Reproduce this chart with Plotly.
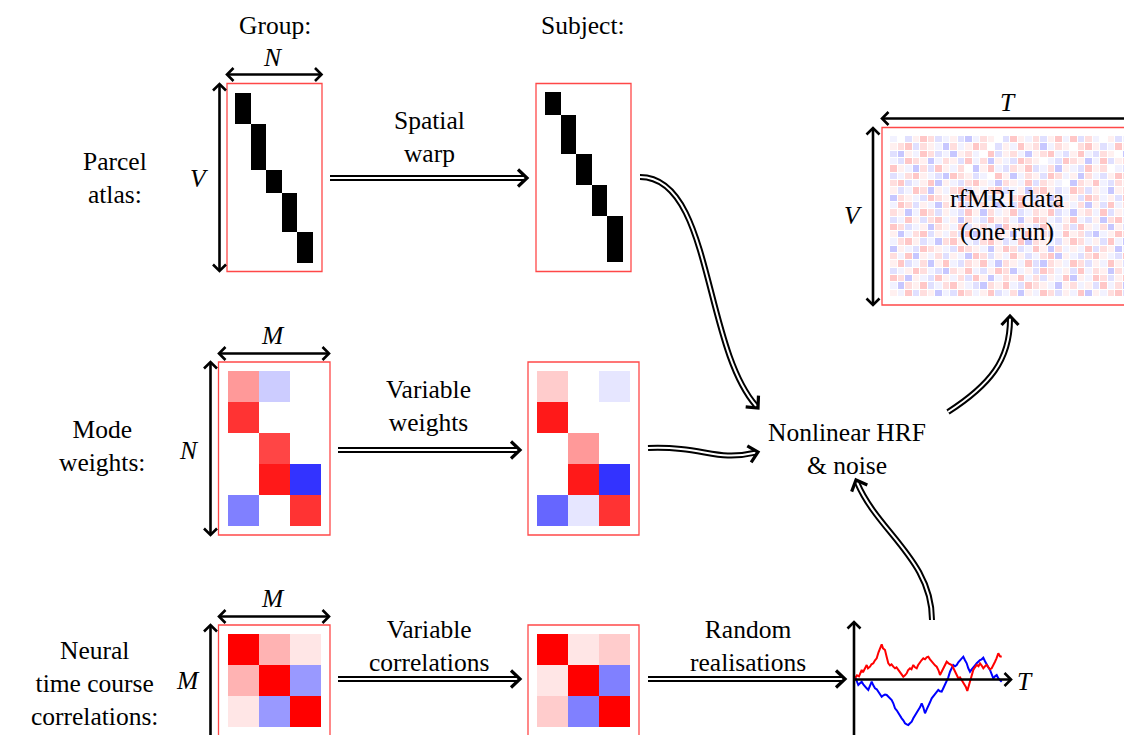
import math
import plotly.graph_objects as go

# ---------------- data ----------------
group_parcel_sizes = [4, 6, 3, 5, 4]      # rows (voxels) per parcel, group atlas
subject_parcel_sizes = [3, 5, 4, 4, 6]    # rows per parcel, subject atlas

group_weights = [[0.40, -0.20, 0.00],
                 [0.80, 0.00, 0.00],
                 [0.00, 0.73, 0.00],
                 [0.00, 0.90, -0.80],
                 [-0.50, 0.00, 0.80]]
subject_weights = [[0.20, 0.00, -0.10],
                   [0.90, 0.00, 0.00],
                   [0.00, 0.40, 0.00],
                   [0.00, 0.90, -0.80],
                   [-0.60, -0.10, 0.80]]
group_corr = [[1.0, 0.3, 0.1],
              [0.3, 1.0, -0.4],
              [0.1, -0.4, 1.0]]
subject_corr = [[1.0, 0.1, 0.2],
                [0.1, 1.0, -0.5],
                [0.2, -0.5, 1.0]]

rfmri_levels = {'B': -0.22, 'b': -0.12, 'c': -0.05, '.': 0.0,
                'p': 0.06, 'r': 0.13, 'R': 0.22}
rfmri_rows = [
    "c.bpRrbcpbBcrp.bRpcrbpRcRbrc.pbc",
    "prRbrpcBrcpRr.bpcRprBcrp.rRpbcRp",
    "bBpcRrbcBprc.RbprcBprRcbpRcbrp.B",
    "cbRrpBcrpbRcrBpcbRrp.cbRrpBcRbpr",
    "RpcBrbRpcr.BpRcbrpRbcrBpcbRpr.cb",
    "bcrRpcbBRrpbc.RpBcrpbRrcpBrcbpRr",
    "rRbcpRBpcbrRpcBrpcRbrpc.BrpRcbrp",
    "pbcRrBpcrRbpcrRbcpBrRpbcRrbpcBpr",
    "BrpcbRrpcBRrpbcprRcbpBrcpbRrcpbR",
    "cRrbpcBrpRbcrpBcbRprcbRpcrBpbRcr",
    "rpBcRrbpcbRpBrcpRbcrpRbcBprcRbpc",
    "bcRpbrRcpBrcbRprcBpRrcbpRcbpBrRc",
    "RrbcpBrpcRbprcBRprcbRpcrbRpcrBpb",
    "pBcrRbpcrbRBpcrpBcRprbcRprbBcpRr",
    "crRpbcBrRpcbrRpbcRBrpcbpRrcpbRcB",
    "BpcbRrpcbRrpcBpRrbcRpBrcpcRbrpBc",
    "rcRBpcrbpcBRrbpcRpbcrRBpcbrRpcbR",
    "pRbcrBpRcbrpRcBrpcRbBrpcRrbpcRpb",
    "bcpRrcbBrpRcbpRrBcpbRrcpbRcrpBrc",
    "RrBpcbRpcrbRpBcrpRcrbpcRBpcRrbpR",
    "cBrpRbcrRpcbBrpRcbRrpcBprcpbRcrB",
    "pcRbrpBcbRrcpRbcrBpcRrbpcRBpcrRb",
]

ts_red_t = [1, 3, 5, 7.7, 9, 11, 12.7, 14, 16, 17.5, 19.3, 21, 22.7, 24.5, 26, 27.7, 29, 31,
            32.5, 34.3, 36, 37.5, 39.3, 41, 42.5, 44.3, 46, 47.5, 49.3, 51, 52.7, 54, 56, 57.5,
            59.3, 61, 62.7, 64, 66, 67.5, 69.3, 71, 72.7, 74.3, 76, 77.7, 79.5, 81, 82.7, 84.5,
            86, 87.5, 89.3, 91, 92.7, 94.5, 96, 97.7, 99, 101, 102.5, 104.3, 106, 107.7, 109,
            111, 112, 113.3, 114.5, 116, 117.5, 119.3, 121, 122.7, 124.5, 126, 127.5, 129.3,
            131, 132.7, 134.5, 136, 137.7, 139.5, 141, 142.5, 144.3, 146, 147.7]
ts_red_v = [1, 4, 3, 9.3, 7, 12, 14.3, 11, 12.6, 15, 16, 19, 21, 27, 30, 35, 31, 29.3,
            23, 16, 14, 15, 12.6, 11, 12, 9.3, 7, 5, 2.6, 4, 6, 9, 11, 10,
            14.3, 12, 11, 14, 17.6, 19, 21, 20, 22, 22.6, 20, 17.6, 16, 14, 12.6, 9,
            4.3, 7, 11, 14, 17.6, 16, 15, 14.3, 12, 7.6, 4, 1, 2, -0.7, -3,
            -5.7, -8, -11.7, -7, -0.7, 4, 9.3, 12, 14.3, 13, 16, 14, 11,
            13, 14.3, 12, 10, 11, 14, 17.6, 21, 26, 23, 22.6]
ts_blue_t = [1, 2.5, 4.3, 6, 7.7, 9.3, 11, 12.7, 14.3, 16, 17.7, 19.3, 21, 22.7, 24.3, 26, 27.7,
             29.5, 31, 32.7, 34.3, 36, 37.7, 39.3, 41, 42.7, 44.3, 46, 47.7, 49.3, 51, 52.7,
             54.3, 56, 57.7, 59.3, 61, 62.7, 64.3, 66, 67.7, 69.3, 71, 72.7, 74.3, 76, 77.7,
             79.3, 81, 82.7, 84.3, 86, 87.7, 89.3, 91, 92.7, 94.3, 96, 97.7, 99.3, 101, 102.7,
             104.3, 106, 107.7, 109.3, 111, 112.7, 114.3, 116, 117.7, 119.3, 121, 122.7, 124.3,
             126, 127.7, 129.3, 131, 132.7, 134.3, 136, 137.7, 139.3, 141, 142.7, 144.3, 146, 147.7]
ts_blue_v = [2.6, -1, -5.7, -4, -2.4, -5, -7.4, -9, -10.7, -6, -2.4, -6, -9, -10, -12.4, -14, -17.4,
             -16, -15.2, -15.7, -17, -19, -20.7, -24, -29, -31, -34, -37.4, -39, -41, -44, -45,
             -45.7, -44, -42.4, -39, -35.7, -33, -30.7, -28, -24, -28, -34, -30, -25.7, -23, -19,
             -17, -15.7, -13, -10.7, -12, -12.4, -9, -5, -2.4, 2, 7.6, 11, 14.3, 13, 14.3,
             17, 19.3, 21, 22.6, 19, 16, 11, 7.6, 10, 12.6, 14, 16, 18,
             19.3, 20, 21.6, 18, 14.3, 12, 9.3, 5, 1, 3, 4.3, 1, -1, -2.4]

# ---------------- layout helpers ----------------
W, H = 1132, 735          # browser window
OFF = 8                   # page body margin in the browser
FW, FH = W - OFF, H - OFF # figure size
FONT = "Liberation Serif"
BWR = [[0, "rgb(0,0,255)"], [0.5, "rgb(255,255,255)"], [1, "rgb(255,0,0)"]]
BOX = "rgba(255,40,40,0.85)"

fig = go.Figure()
shapes = []
annotations = []
layout_axes = {}
n_ax = [1]


def new_axes(x0, x1, y0, y1, xr, yr):
    n_ax[0] += 1
    n = n_ax[0]
    layout_axes[f"xaxis{n}"] = dict(domain=[(x0 - OFF) / FW, (x1 - OFF) / FW], range=xr,
                                    anchor=f"y{n}", visible=False, fixedrange=True)
    layout_axes[f"yaxis{n}"] = dict(domain=[1 - (y1 - OFF) / FH, 1 - (y0 - OFF) / FH],
                                    range=yr, anchor=f"x{n}", visible=False, fixedrange=True)
    return f"x{n}", f"y{n}"


def heat(z, x0, x1, y0, y1, colorscale, zmin, zmax, gap=0):
    rows, cols = len(z), len(z[0])
    xa, ya = new_axes(x0, x1, y0, y1, [-0.5, cols - 0.5], [rows - 0.5, -0.5])
    fig.add_trace(go.Heatmap(z=z, xaxis=xa, yaxis=ya, colorscale=colorscale, zmin=zmin,
                             zmax=zmax, showscale=False, xgap=gap, ygap=gap, hoverinfo="skip"))


def box(x0, y0, x1, y1):
    shapes.append(dict(type="rect", xref="x", yref="y", x0=x0, y0=y0, x1=x1, y1=y1,
                       line=dict(color=BOX, width=1.3), layer="above"))


def chevron(tx, ty, dx, dy, L, hw, width):
    n = math.hypot(dx, dy)
    ux, uy = dx / n, dy / n
    px, py = -uy, ux
    bx, by = tx - ux * L, ty - uy * L
    shapes.append(dict(type="path", xref="x", yref="y",
                       path=f"M{bx + px * hw:.2f},{by + py * hw:.2f} L{tx:.2f},{ty:.2f} "
                            f"L{bx - px * hw:.2f},{by - py * hw:.2f}",
                       line=dict(color="black", width=width)))


def dim_arrow(x0, y0, x1, y1):
    shapes.append(dict(type="line", xref="x", yref="y", x0=x0, y0=y0, x1=x1, y1=y1,
                       line=dict(color="black", width=2.6)))
    chevron(x1, y1, x1 - x0, y1 - y0, 6.5, 6.5, 2.6)
    chevron(x0, y0, x0 - x1, y0 - y1, 6.5, 6.5, 2.6)


def single_arrow(x0, y0, x1, y1):
    shapes.append(dict(type="line", xref="x", yref="y", x0=x0, y0=y0, x1=x1, y1=y1,
                       line=dict(color="black", width=2.6)))
    chevron(x1, y1, x1 - x0, y1 - y0, 6.5, 6.5, 2.6)


def double_arrow(start, c1, c2, tip):
    dx, dy = tip[0] - c2[0], tip[1] - c2[1]
    n = math.hypot(dx, dy)
    ex, ey = tip[0] - 3 * dx / n, tip[1] - 3 * dy / n
    p = (f"M{start[0]},{start[1]} C{c1[0]},{c1[1]} {c2[0]},{c2[1]} {ex:.2f},{ey:.2f}")
    shapes.append(dict(type="path", xref="x", yref="y", path=p,
                       line=dict(color="black", width=6)))
    shapes.append(dict(type="path", xref="x", yref="y", path=p,
                       line=dict(color="white", width=2)))
    chevron(tip[0], tip[1], dx, dy, 9, 8.5, 3.2)


def straight_double(x0, x1, y):
    double_arrow((x0, y), ((2 * x0 + x1) / 3, y), ((x0 + 2 * x1) / 3, y), (x1, y))


def text(x, y, s, size=25.5, xanchor="center"):
    annotations.append(dict(x=x, y=y, xref="x", yref="y", text=s, showarrow=False,
                            xanchor=xanchor, yanchor="middle", align="center",
                            font=dict(family=FONT, size=size, color="black")))


# ---------------- atlases ----------------
def atlas_matrix(sizes):
    m = []
    for k, s in enumerate(sizes):
        for _ in range(s):
            m.append([1 if j == k else 0 for j in range(len(sizes))])
    return m


BW = [[0, "white"], [1, "black"]]
heat(atlas_matrix(group_parcel_sizes), 235, 313, 93, 263, BW, 0, 1)
box(227, 83.5, 322, 271.5)
heat(atlas_matrix(subject_parcel_sizes), 545, 623, 92, 262, BW, 0, 1)
box(536, 83.5, 631, 271.5)

# ---------------- mode weights ----------------
heat(group_weights, 228, 321, 371, 526, BWR, -1, 1)
box(218.5, 362, 330, 535)
heat(subject_weights, 537, 630, 371, 526, BWR, -1, 1)
box(528, 362, 639, 535)

# ---------------- correlations ----------------
heat(group_corr, 228, 321, 634, 727, BWR, -1, 1)
box(218.5, 625, 330, 736)
heat(subject_corr, 537, 630, 634, 727, BWR, -1, 1)
box(528, 625, 639, 736)

# ---------------- rfMRI data ----------------
rfmri = [[rfmri_levels[c] for c in row] for row in rfmri_rows]
heat(rfmri, 890, 1130, 136, 297, BWR, -1, 1, gap=1)
box(882, 127.5, 1140, 305)

# ---------------- time courses ----------------
xa, ya = new_axes(854, 1011, 623, 735, [0, 157], [-55.7, 56.3])
fig.add_trace(go.Scatter(x=ts_blue_t, y=ts_blue_v, xaxis=xa, yaxis=ya, mode="lines",
                         line=dict(color="rgb(0,0,255)", width=2), hoverinfo="skip"))
fig.add_trace(go.Scatter(x=ts_red_t, y=ts_red_v, xaxis=xa, yaxis=ya, mode="lines",
                         line=dict(color="rgb(255,0,0)", width=2), hoverinfo="skip"))
shapes.append(dict(type="line", xref="x", yref="y", x0=854, y0=740, x1=854, y1=622,
                   line=dict(color="black", width=2.6)))
chevron(854, 622, 0, -1, 6.5, 6.5, 2.6)
single_arrow(854, 679.5, 1011, 679.5)

# ---------------- dimension arrows ----------------
dim_arrow(227, 74.5, 321.5, 74.5)
dim_arrow(219.5, 84, 219.5, 271)
dim_arrow(882, 118.5, 1136, 118.5)
dim_arrow(873, 128, 873, 305)
dim_arrow(219, 353.5, 329, 353.5)
dim_arrow(210.5, 362, 210.5, 535)
dim_arrow(219, 616.5, 329, 616.5)
dim_arrow(210.5, 625, 210.5, 745)

# ---------------- process arrows ----------------
straight_double(330, 527, 178)
straight_double(338, 520, 450)
straight_double(338, 520, 679)
straight_double(648, 845, 679)
double_arrow((640, 177), (712, 177), (703, 345), (758, 408))
double_arrow((648, 448), (705, 446), (715, 462), (758, 452))
double_arrow((948, 412), (990, 385), (1010, 360), (1010, 316))
double_arrow((932, 620), (932, 560), (878, 532), (856, 480))

# ---------------- texts ----------------
text(275, 25, "Group:")
text(583, 25, "Subject:")
text(273, 57, "<i>N</i>")
text(199, 178, "<i>V</i>")
text(115, 178, "Parcel<br>atlas:")
text(429, 137, "Spatial<br>warp")
text(1008, 102, "<i>T</i>")
text(853, 215, "<i>V</i>")
text(1007, 215, "rfMRI data<br>(one run)")
text(273, 335, "<i>M</i>")
text(189, 450, "<i>N</i>")
text(102, 446, "Mode<br>weights:")
text(428, 406, "Variable<br>weights")
text(847, 449, "Nonlinear HRF<br>&amp; noise")
text(273, 598, "<i>M</i>")
text(188, 680, "<i>M</i>")
text(94, 683, "Neural<br>time course<br>correlations:")
text(429, 646, "Variable<br>correlations")
text(748, 646, "Random<br>realisations")
text(1025, 681, "<i>T</i>")

fig.update_layout(
    width=FW, height=FH, margin=dict(l=0, r=0, t=0, b=0),
    paper_bgcolor="white", plot_bgcolor="white", showlegend=False,
    xaxis=dict(domain=[0, 1], range=[OFF, W], visible=False, fixedrange=True),
    yaxis=dict(domain=[0, 1], range=[H, OFF], visible=False, fixedrange=True),
    shapes=shapes, annotations=annotations,
    **layout_axes,
)
fig.write_html("out.html")
